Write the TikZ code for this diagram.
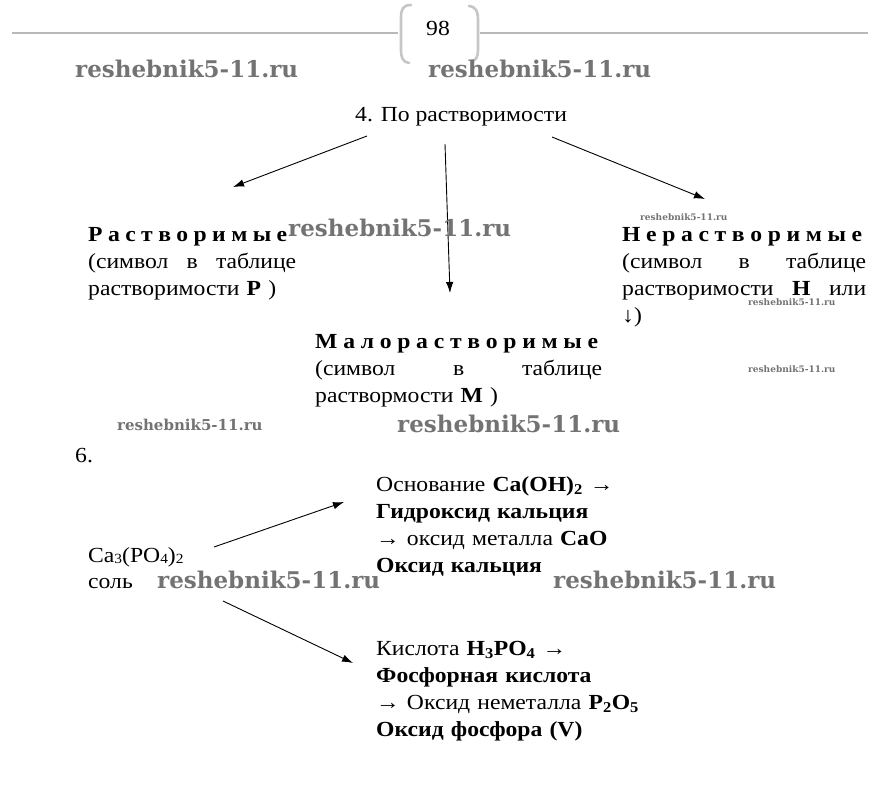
\documentclass[tikz,border=0pt]{standalone}
\usepackage{fontspec}
\setmainfont{Liberation Serif}[FakeStretch=1.1]
\newfontfamily\wmfont{DejaVu Serif}
\usetikzlibrary{arrows.meta}
\newcommand{\lowidx}[1]{\raisebox{-1.5pt}{\fontsize{14}{14}\selectfont #1}}

\begin{document}
\begin{tikzpicture}[x=1pt,y=-1pt,
  wm/.style={anchor=base west,text=black!55,font=\wmfont\bfseries\fontsize{#1}{#1}\selectfont}]
\tikzstyle{every node}=[inner sep=0pt,font=\fontsize{21.5}{27}\selectfont]
\tikzstyle{txt}=[anchor=base west,align=left]
\tikzstyle{arr}=[-{Latex[length=11pt,width=7.5pt]},line width=0.9pt]

\useasboundingbox (0,0) rectangle (886,791);

% page header with number
\draw[gray!55,line width=1.6pt] (12,33) -- (398,33);
\draw[gray!55,line width=1.6pt] (480,33) -- (868,33);
\draw[gray!45,line width=2.6pt,line cap=round]
  (411,5) .. controls (403,5) and (401,9) .. (401,18) -- (401,50)
  .. controls (401,58) and (403,62) .. (409,63);
\draw[gray!45,line width=2.6pt,line cap=round]
  (469,6) .. controls (476,7) and (478,11) .. (478,20) -- (478,50)
  .. controls (478,57) and (476,60) .. (472,61);
\node (page) at (438,28) {98};

% solubility
\node[txt] (title) at (355,122) {4. По растворимости};

\node[txt,text width=208pt] (sol) at (88,242)
{\makebox[199pt][s]{\bfseries Р\hfil а\hfil с\hfil т\hfil в\hfil о\hfil р\hfil и\hfil м\hfil ы\hfil е}\\
 \makebox[208pt][s]{(символ\hfil в\hfil таблице}\\
 растворимости \textbf{Р} )};

\node[txt,text width=244pt] (insol) at (622,242)
{\makebox[240pt][s]{\bfseries Н\hfil е\hfil р\hfil а\hfil с\hfil т\hfil в\hfil о\hfil р\hfil и\hfil м\hfil ы\hfil е}\\
 \makebox[244pt][s]{(символ\hfil в\hfil таблице}\\
 \makebox[244pt][s]{растворимости\hfil\textbf{Н}\hfil или}\\
 ↓)};

\node[txt,text width=287pt] (lowsol) at (315,349)
{\makebox[283pt][s]{\bfseries М\hfil а\hfil л\hfil о\hfil р\hfil а\hfil с\hfil т\hfil в\hfil о\hfil р\hfil и\hfil м\hfil ы\hfil е}\\
 \makebox[287pt][s]{(символ\hfil в\hfil таблице}\\
 раствормости \textbf{М} )};

\coordinate (fromSol) at (367,136);   \coordinate (toSol) at (233,187);
\coordinate (fromLow) at (445,144);   \coordinate (toLow) at (450,293);
\coordinate (fromInsol) at (552,137); \coordinate (toInsol) at (705,199);
\draw[arr] (fromSol) -- (toSol);
\draw[arr] (fromLow) -- (toLow);
\draw[arr] (fromInsol) -- (toInsol);

% task 6
\node[txt] (six) at (75,462) {6.};
\node[txt,text width=120pt,font=\fontsize{21.5}{26}\selectfont] (salt) at (88,562)
{Ca\lowidx{3}(PO\lowidx{4})\lowidx{2}\\ соль};

\node[txt,text width=300pt] (base) at (376,491)
{Основание \textbf{Ca(OH)\textsubscript{2}} →\\
 \textbf{Гидроксид кальция}\\
 → оксид металла \textbf{CaO}\\
 \textbf{Оксид кальция}};

\node[txt,text width=300pt] (acid) at (376,655)
{Кислота \textbf{H\textsubscript{3}PO\textsubscript{4}} →\\
 \textbf{Фосфорная кислота}\\
 → Оксид неметалла \textbf{P\textsubscript{2}O\textsubscript{5}}\\
 \textbf{Оксид фосфора (V)}};

\coordinate (fromUp) at (214,547);   \coordinate (toBase) at (344,502);
\coordinate (fromDown) at (223,601); \coordinate (toAcid) at (353,663);
\draw[arr] (fromUp) -- (toBase);
\draw[arr] (fromDown) -- (toAcid);

% watermarks
\node[wm=23] (wm1) at (75,78) {reshebnik5-11.ru};
\node[wm=23] (wm2) at (428,78) {reshebnik5-11.ru};
\node[wm=23] (wm3) at (288,237) {reshebnik5-11.ru};
\node[wm=9] (wm4) at (640,221) {reshebnik5-11.ru};
\node[wm=9] (wm5) at (748,306) {reshebnik5-11.ru};
\node[wm=9] (wm6) at (748,373) {reshebnik5-11.ru};
\node[wm=15] (wm7) at (117,430) {reshebnik5-11.ru};
\node[wm=23] (wm8) at (397,432) {reshebnik5-11.ru};
\node[wm=23] (wm9) at (157,588) {reshebnik5-11.ru};
\node[wm=23] (wm10) at (553,588) {reshebnik5-11.ru};

\end{tikzpicture}
\end{document}
